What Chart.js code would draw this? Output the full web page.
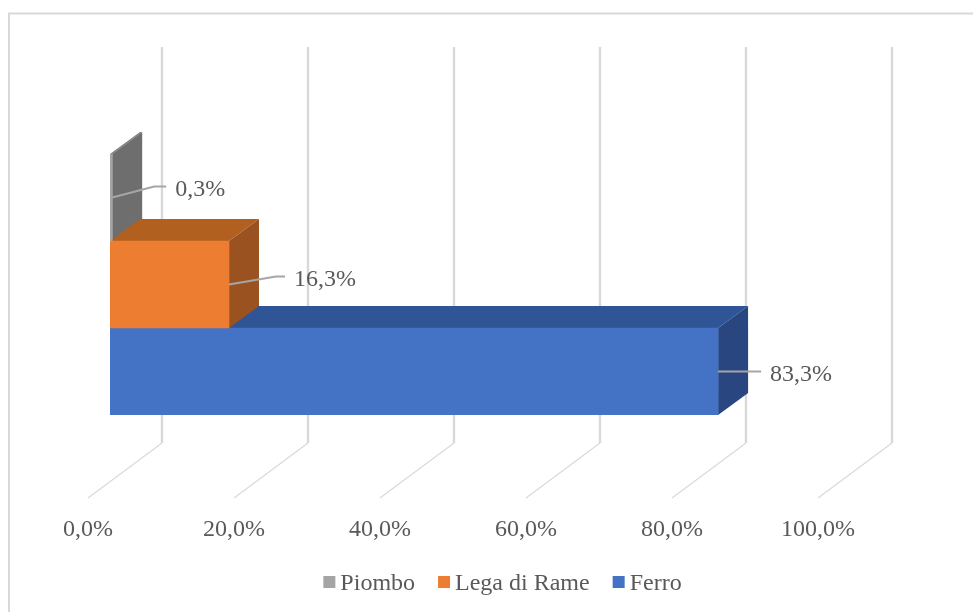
<!DOCTYPE html>
<html>
<head>
<meta charset="utf-8">
<title>Piombo, Lega di Rame, Ferro</title>
<script src="https://cdn.jsdelivr.net/npm/chart.js@4"></script>
<style>
    body { margin: 0; background: #fff; }
    canvas { display: block; }
</style>
</head>
<body>
<canvas id="chart" width="973" height="612"></canvas>
<script>
const categories = [''];
const seriesNames = ['Piombo', 'Lega di Rame', 'Ferro'];
const piombo = [0.3];
const legaDiRame = [16.3];
const ferro = [83.3];
const tickValues = [0, 20, 40, 60, 80, 100];

const frontColors = ['#a5a5a5', '#ed7d31', '#4472c4'];
const topColors = ['#7c7c7c', '#b2601f', '#2f5597'];
const sideColors = ['#6e6e6e', '#9a5220', '#2a4680'];

const FONT = '"Liberation Serif", "Times New Roman", serif';
const TEXT_COLOR = '#595959';
const LINE_COLOR = '#d9d9d9';

// 3D look: how far the bars and the walls are pushed back
const BAR_DEPTH = { x: 30, y: -22 };
const WALL = { frontX: -22, backX: 52, frontY: 498, backY: 443, topY: 47 };

// leader lines of the value labels: [run, rise, stub]
const leaders = [[42, 11, 12], [47, 8, 9], [43, 0, 0]];

const formatPercent = (v) => v.toFixed(1).replace('.', ',') + '%';

const polygon = (ctx, points, color) => {
    ctx.fillStyle = color;
    ctx.beginPath();
    points.forEach(([x, y], i) => (i ? ctx.lineTo(x, y) : ctx.moveTo(x, y)));
    ctx.closePath();
    ctx.fill();
};

const frame3d = {
    id: 'frame3d',
    beforeDatasetsDraw(chart) {
        const { ctx, scales } = chart;
        ctx.save();

        // outer frame, only left and top are visible
        ctx.strokeStyle = LINE_COLOR;
        ctx.lineWidth = 2;
        ctx.beginPath();
        ctx.moveTo(9, 612);
        ctx.lineTo(9, 13.5);
        ctx.lineTo(973, 13.5);
        ctx.stroke();

        // floor and back wall grid lines
        tickValues.forEach((v) => {
            const x = scales.x.getPixelForValue(v);
            ctx.lineWidth = 1.2;
            ctx.beginPath();
            ctx.moveTo(x + WALL.frontX, WALL.frontY);
            ctx.lineTo(x + WALL.backX, WALL.backY);
            ctx.stroke();
            ctx.lineWidth = 2.4;
            ctx.beginPath();
            ctx.moveTo(x + WALL.backX, WALL.backY);
            ctx.lineTo(x + WALL.backX, WALL.topY);
            ctx.stroke();
        });

        // top and side faces, orange goes last so it sits over the other two
        [0, 2, 1].forEach((i) => {
            const bar = chart.getDatasetMeta(i).data[0];
            const left = bar.base;
            const right = bar.x;
            const top = bar.y - bar.height / 2;
            const bottom = bar.y + bar.height / 2;
            const dx = BAR_DEPTH.x;
            const dy = BAR_DEPTH.y;
            polygon(ctx, [[left, top], [right, top], [right + dx, top + dy], [left + dx, top + dy]], topColors[i]);
            polygon(ctx, [[right, top], [right + dx, top + dy], [right + dx, bottom + dy], [right, bottom]], sideColors[i]);
        });
        ctx.restore();
    },
    afterDatasetsDraw(chart) {
        const { ctx } = chart;
        ctx.save();

        // value labels with their leader lines
        ctx.font = `24px ${FONT}`;
        ctx.textBaseline = 'middle';
        ctx.textAlign = 'left';
        chart.data.datasets.forEach((ds, i) => {
            const bar = chart.getDatasetMeta(i).data[0];
            const [run, rise, stub] = leaders[i];
            const endX = bar.x + run + stub;
            const endY = bar.y - rise;
            ctx.strokeStyle = '#a6a6a6';
            ctx.lineWidth = 2;
            ctx.beginPath();
            ctx.moveTo(bar.x, bar.y);
            ctx.lineTo(bar.x + run, endY);
            ctx.lineTo(endX, endY);
            ctx.stroke();
            ctx.fillStyle = TEXT_COLOR;
            ctx.fillText(formatPercent(ds.data[0]), endX + 9, endY + 3);
        });

        // legend, the gap between box and text is narrower than the built-in one
        const boxSize = 12;
        const boxGap = 5;
        const itemGap = 23;
        const widths = seriesNames.map((n) => boxSize + boxGap + ctx.measureText(n).width);
        const total = widths.reduce((a, b) => a + b, 0) + itemGap * (widths.length - 1);
        let x = 502.5 - total / 2;
        seriesNames.forEach((name, i) => {
            ctx.fillStyle = frontColors[i];
            ctx.fillRect(x, 576, boxSize, boxSize);
            ctx.fillStyle = TEXT_COLOR;
            ctx.fillText(name, x + boxSize + boxGap, 584);
            x += widths[i] + itemGap;
        });
        ctx.restore();
    }
};

const makeDataset = (label, data, color) => ({
    label,
    data,
    backgroundColor: color,
    borderWidth: 0,
    categoryPercentage: 1,
    barPercentage: 1
});

new Chart(document.getElementById('chart'), {
    type: 'bar',
    data: {
        labels: categories,
        datasets: [
            makeDataset(seriesNames[0], piombo, frontColors[0]),
            makeDataset(seriesNames[1], legaDiRame, frontColors[1]),
            makeDataset(seriesNames[2], ferro, frontColors[2])
        ]
    },
    plugins: [frame3d],
    options: {
        indexAxis: 'y',
        responsive: false,
        animation: false,
        devicePixelRatio: 1,
        layout: { padding: { left: 110, right: 133, top: 154, bottom: 0 } },
        plugins: {
            legend: { display: false },
            tooltip: { enabled: false }
        },
        scales: {
            x: {
                min: 0,
                max: 100,
                afterFit: (scale) => {
                    scale.paddingLeft = 0;
                    scale.paddingRight = 0;
                    scale.height = 197;
                },
                afterBuildTicks: (scale) => {
                    scale.ticks = tickValues.map((value) => ({ value }));
                },
                grid: { display: false },
                border: { display: false },
                ticks: {
                    autoSkip: false,
                    maxRotation: 0,
                    padding: 92,
                    labelOffset: -22,
                    color: TEXT_COLOR,
                    font: { family: FONT, size: 24 },
                    callback: (v) => formatPercent(v)
                }
            },
            y: { display: false }
        }
    }
});
</script>
</body>
</html>
